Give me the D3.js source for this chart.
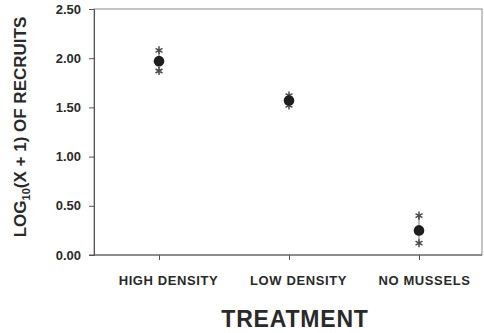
<!doctype html>
<html>
<head>
    <meta charset="utf-8">
    <title>Recruits by treatment</title>
    <script src="https://cdn.jsdelivr.net/npm/d3@7"></script>
    <style>
        html, body { margin: 0; padding: 0; background: #fff; }
        svg text { font-family: "Liberation Sans", Arial, sans-serif; font-weight: bold; fill: #2a2a2a; }
    </style>
</head>
<body>
<div id="chart"></div>
<script>
    // values
    var treatments = ["HIGH DENSITY", "LOW DENSITY", "NO MUSSELS"];
    var means = [1.97, 1.57, 0.25];
    var upper = [2.08, 1.62, 0.40];
    var lower = [1.87, 1.52, 0.12];
    var yTicks = [0, 0.5, 1, 1.5, 2, 2.5];

    var W = 484, H = 333;
    var mLeft = 94, mRight = 482, mTop = 9, mBottom = 255;

    var svg = d3.select("#chart").append("svg")
        .attr("width", W).attr("height", H);

    var x = d3.scalePoint().domain(treatments).range([mLeft, 484]).padding(0.5);
    var y = d3.scaleLinear().domain([0, 2.5]).range([mBottom, mTop]);

    // frame
    svg.append("rect")
        .attr("x", mLeft).attr("y", mTop)
        .attr("width", mRight - mLeft).attr("height", mBottom - mTop)
        .attr("fill", "none").attr("stroke", "#8a8a8a").attr("stroke-width", 1);

    // y axis
    var ya = svg.append("g")
        .attr("transform", "translate(" + mLeft + ",0)")
        .call(d3.axisLeft(y).tickValues(yTicks).tickFormat(d3.format(".2f")).tickSize(5).tickPadding(8));
    ya.select(".domain").attr("stroke", "#555");
    ya.selectAll(".tick line").attr("stroke", "#555");
    ya.selectAll("text").style("font-size", "13px").style("fill", "#2a2a2a");

    // x axis (labels sit a little right of their ticks, as in the original)
    var xa = svg.append("g")
        .attr("transform", "translate(0," + mBottom + ")")
        .call(d3.axisBottom(x).tickSize(5).tickPadding(16).tickSizeOuter(0));
    xa.select(".domain").attr("stroke", "#555").attr("d", "M" + (mLeft - 5) + ",0H" + mRight);
    xa.selectAll(".tick line").attr("stroke", "#555");
    xa.selectAll("text")
        .attr("dx", function (d, i) { return i < 2 ? 9 : 5; })
        .style("font-size", "13px").style("letter-spacing", "0.6px").style("fill", "#2a2a2a");

    // thin spread lines
    svg.append("g").selectAll("line")
        .data(means)
        .join("line")
        .attr("x1", function (d, i) { return x(treatments[i]); })
        .attr("x2", function (d, i) { return x(treatments[i]); })
        .attr("y1", function (d, i) { return y(upper[i]); })
        .attr("y2", function (d, i) { return y(lower[i]); })
        .attr("stroke", "#777").attr("stroke-width", 1);

    // asterisk markers for the spread
    var star = d3.symbol().type(d3.symbolAsterisk).size(45);
    function drawStars(vals) {
        svg.append("g").selectAll("path")
            .data(vals)
            .join("path")
            .attr("d", star)
            .attr("transform", function (d, i) { return "translate(" + x(treatments[i]) + "," + y(d) + ")"; })
            .attr("fill", "none")
            .attr("stroke", "#4a4a4a")
            .attr("stroke-width", 1.5);
    }
    drawStars(upper);
    drawStars(lower);

    // means
    svg.append("g").selectAll("circle")
        .data(means)
        .join("circle")
        .attr("cx", function (d, i) { return x(treatments[i]); })
        .attr("cy", function (d) { return y(d); })
        .attr("r", 5.3)
        .attr("fill", "#1e1e1e");

    // axis titles
    var yt = svg.append("text")
        .attr("transform", "translate(26,127) rotate(-90)")
        .attr("text-anchor", "middle")
        .style("font-size", "17px");
    yt.append("tspan").text("LOG");
    yt.append("tspan").text("10").attr("dy", 4).style("font-size", "11px");
    yt.append("tspan").text("(X + 1) OF RECRUITS").attr("dy", -4);

    svg.append("text")
        .attr("x", 295).attr("y", 327)
        .attr("text-anchor", "middle")
        .style("font-size", "23px")
        .style("letter-spacing", "0.8px")
        .text("TREATMENT");
</script>
</body>
</html>
